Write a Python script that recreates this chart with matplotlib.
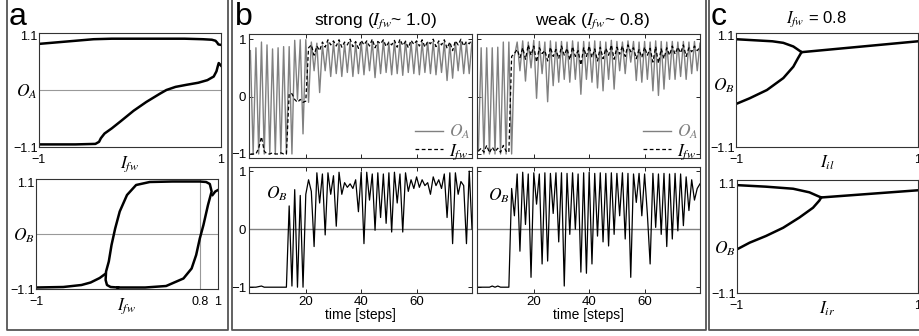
import matplotlib
matplotlib.use('Agg')
import matplotlib.pyplot as plt
import matplotlib.transforms as mtransforms
from matplotlib.lines import Line2D
import numpy as np

plt.rcParams['font.family'] = ['Liberation Sans', 'DejaVu Sans']
plt.rcParams['mathtext.fontset'] = 'stix'

# ---- panel a: bifurcation vs I_fw ----
a_top_up_x = [-1, -0.8, -0.6, -0.4, -0.2, 0, 0.3, 0.6, 0.8, 0.9, 0.94, 0.96, 0.97, 1.0]
a_top_up_y = [0.89, 0.92, 0.95, 0.98, 0.99, 0.99, 0.99, 0.99, 0.98, 0.97, 0.95, 0.91, 0.88, 0.87]
a_top_lo_x = [-1, -0.6, -0.38, -0.34, -0.32, -0.28, -0.2, -0.1, 0.04, 0.18, 0.33, 0.4, 0.5,
              0.62, 0.75, 0.85, 0.92, 0.95, 0.965, 0.975, 1.0]
a_top_lo_y = [-1.05, -1.05, -1.04, -1.0, -0.93, -0.84, -0.74, -0.6, -0.4, -0.23, -0.07, 0.0, 0.06,
              0.1, 0.14, 0.19, 0.26, 0.36, 0.46, 0.52, 0.47]

a_bot_tail_x = [-1, -0.7, -0.5, -0.4, -0.3, -0.24]
a_bot_tail_y = [-1.07, -1.06, -1.02, -0.97, -0.88, -0.8]
a_bot_loop_x = [-0.1, -0.18, -0.22, -0.235, -0.23, -0.2, -0.17, -0.13, -0.08, 0.0, 0.1, 0.25, 0.5,
                0.8, 0.87, 0.91, 0.93, 0.89, 0.84, 0.8, 0.76, 0.71, 0.62, 0.43, 0.2, -0.1]
a_bot_loop_y = [-1.07, -1.06, -1.02, -0.92, -0.75, -0.55, -0.22, 0.11, 0.45, 0.78, 0.98, 1.04, 1.05,
                1.05, 1.04, 1.0, 0.85, 0.58, 0.18, -0.09, -0.42, -0.69, -0.89, -1.04, -1.07, -1.07]
a_bot_hook_x = [0.94, 0.97, 1.0]
a_bot_hook_y = [0.78, 0.85, 0.88]

# ---- panel c: O_B vs I_il / I_ir ----
c_top_up_x = [-1, -0.8, -0.6, -0.48, -0.37, -0.32, -0.28]
c_top_up_y = [0.98, 0.96, 0.94, 0.91, 0.84, 0.78, 0.73]
c_top_lo_x = [-1, -0.85, -0.66, -0.48, -0.37, -0.32, -0.28]
c_top_lo_y = [-0.27, -0.16, 0.0, 0.23, 0.45, 0.61, 0.73]
c_top_r_x = [-0.28, 1.0]
c_top_r_y = [0.73, 0.94]

c_bot_up_x = [-1, -0.68, -0.38, -0.2, -0.11, -0.07]
c_bot_up_y = [1.0, 0.97, 0.93, 0.86, 0.79, 0.76]
c_bot_lo_x = [-1, -0.86, -0.68, -0.49, -0.31, -0.16, -0.09, -0.07]
c_bot_lo_y = [-0.25, -0.12, 0.01, 0.17, 0.37, 0.56, 0.70, 0.76]
c_bot_r_x = [-0.07, 1.0]
c_bot_r_y = [0.76, 0.90]

# ---- panel b: time series ----
steps = np.arange(81)
strong_OA = [0.80, -1.00, 0.85, -1.00, 0.95, -1.00, 0.90, -1.00, 0.83, -1.00,
             0.85, -1.00, 0.87, -1.00, 0.87, -1.00, 0.98, -0.05, 0.99, -0.65,
             0.99, -0.10, 0.95, 0.45, 0.93, 0.07, 0.90, 0.45, 0.95, 0.35,
             0.94, 0.40, 0.95, 0.35, 0.92, 0.42, 0.96, 0.35, 0.93, 0.40,
             0.95, 0.38, 0.94, 0.45, 0.96, 0.33, 0.95, 0.40, 0.97, 0.42,
             0.93, 0.38, 0.96, 0.40, 0.95, 0.37, 0.97, 0.42, 0.94, 0.40,
             0.96, 0.38, 0.95, 0.42, 0.95, 0.40, 0.96, 0.38, 0.93, 0.42,
             0.95, 0.28, 0.92, 0.32, 0.95, 0.45, 0.96, 0.40, 0.93, 0.40,
             0.95]
strong_Ifw = [-1.00, -1.00, -1.00, -0.90, -0.70, -0.95, -1.00, -1.00, -0.98, -1.00,
              -1.00, -0.98, -1.00, -1.00, 0.05, 0.05, -0.05, -0.10, -0.05, -0.10,
              -0.08, 0.85, 0.90, 0.72, 0.88, 0.80, 0.95, 0.86, 0.99, 0.90,
              0.97, 0.88, 0.99, 0.86, 0.95, 0.90, 1.00, 0.87, 0.96, 0.84,
              0.98, 0.90, 0.97, 0.88, 1.00, 0.85, 0.96, 0.92, 0.99, 0.87,
              0.95, 0.90, 0.98, 0.86, 1.00, 0.89, 0.96, 0.85, 0.98, 0.91,
              0.97, 0.88, 0.99, 0.86, 0.96, 0.92, 1.00, 0.87, 0.97, 0.90,
              0.99, 0.84, 0.95, 0.80, 0.97, 0.90, 1.00, 0.88, 0.96, 0.92,
              0.99]
weak_OA = [-0.95, 0.85, -1.00, 0.85, -1.00, 0.85, -1.00, 0.86, -1.00, 0.95,
           -1.00, 0.95, -1.00, 0.70, 0.95, 0.45, 0.97, 0.27, 0.95, 0.50,
           0.98, -0.03, 0.96, 0.40, 0.95, -0.09, 0.97, 0.19, 0.95, 0.25,
           0.96, 0.30, 0.95, 0.25, 0.97, 0.30, 0.95, 0.04, 0.96, 0.30,
           0.95, 0.25, 0.97, 0.15, 0.96, 0.10, 0.95, 0.30, 0.98, 0.13,
           0.96, 0.45, 0.95, 0.40, 0.97, 0.60, 0.96, 0.28, 0.95, 0.25,
           0.96, 0.30, 0.95, 0.10, 0.97, 0.02, 0.96, 0.13, 0.95, 0.30,
           0.96, 0.30, 0.95, 0.35, 0.96, 0.30, 0.95, 0.40, 0.96, 0.45,
           0.93]
weak_Ifw = [-0.95, -0.90, -0.97, -0.85, -0.98, -0.88, -0.96, -0.90, -0.97, -0.85,
            -0.95, -0.97, 0.70, 0.75, 0.82, 0.68, 0.85, 0.65, 0.90, 0.72,
            0.88, 0.60, 0.85, 0.75, 0.80, 0.62, 0.86, 0.70, 0.82, 0.66,
            0.88, 0.72, 0.84, 0.64, 0.87, 0.70, 0.80, 0.55, 0.85, 0.70,
            0.88, 0.68, 0.83, 0.62, 0.86, 0.66, 0.84, 0.72, 0.90, 0.65,
            0.86, 0.74, 0.88, 0.70, 0.90, 0.78, 0.85, 0.66, 0.82, 0.68,
            0.86, 0.72, 0.84, 0.60, 0.87, 0.58, 0.83, 0.66, 0.85, 0.72,
            0.88, 0.74, 0.86, 0.76, 0.90, 0.70, 0.85, 0.78, 0.88, 0.80,
            0.86]
strong_OB = [-1.00, -1.00, -1.00, -0.99, -0.98, -1.00, -1.00, -1.00, -1.00, -1.00,
             -1.00, -1.00, -1.00, -1.00, 0.40, -0.98, 0.68, -1.00, 0.58, -1.00,
             0.60, 0.85, 0.65, -0.30, 0.97, 0.45, 0.95, -0.10, 0.97, 0.60,
             0.92, 0.05, 0.98, 0.60, 0.80, 0.72, 0.78, 0.70, 0.85, 0.30,
             0.98, -0.25, 0.98, 0.50, 0.95, -0.02, 0.97, 0.20, 0.95, 0.10,
             0.97, -0.05, 0.98, 0.45, 0.95, -0.05, 0.97, 0.65, 0.85, 0.70,
             0.90, 0.72, 0.85, 0.75, 0.80, 0.60, 0.90, 0.75, 0.85, 0.70,
             0.95, 0.20, 0.97, -0.25, 0.97, 0.60, 0.82, 0.75, -0.25, 1.00,
             0.00]
weak_OB = [-1.00, -1.00, -1.00, -1.00, -1.00, -0.98, -1.00, -0.98, -1.00, -1.00,
           -1.00, -1.00, 0.70, 0.23, 0.95, -0.38, 0.98, 0.08, 0.95, -0.83,
           0.97, 0.43, 0.95, -0.60, 0.97, -0.55, 0.96, 0.27, 0.97, -0.22,
           0.97, -0.98, 0.96, -0.09, 0.97, 0.00, 0.95, -0.74, 0.97, -0.76,
           0.98, -0.60, 0.96, -0.12, 0.97, -0.22, 0.96, -0.29, 0.97, -0.09,
           0.96, 0.23, 0.97, -0.17, 0.96, -0.83, 0.95, 0.46, 0.96, 0.23,
           0.95, 0.26, -0.60, 0.96, 0.03, 0.95, -0.09, 0.96, -0.30, 0.95,
           -0.17, 0.96, -0.03, 0.95, 0.06, 0.90, 0.32, 0.85, 0.50, 0.70,
           0.78]

W, H = 920, 336
fig = plt.figure(figsize=(W / 100, H / 100), dpi=100)
GRAY = '#808080'
FRAME = '#555555'


def box(l, t, r, b):
    ax = fig.add_axes([l / W, 1 - b / H, (r - l) / W, (b - t) / H])
    for s in ax.spines.values():
        s.set_color('#333333')
        s.set_linewidth(0.8)
    return ax


def fig_line(xs, ys):
    fig.add_artist(Line2D([x / W for x in xs], [1 - y / H for y in ys],
                          transform=fig.transFigure, color=FRAME, lw=1.3))


# panel frames
fig_line([7, 7, 228, 228], [0, 330, 330, 0])
fig_line([232, 232, 706, 706], [0, 330, 330, 0])
fig_line([709, 709, 925], [0, 330, 330])

# ---------- panel a ----------
a1 = box(39, 33, 221, 147)
a1.axhline(0, color='#999999', lw=0.8)
a1.plot(a_top_up_x, a_top_up_y, color='k', lw=1.8)
a1.plot(a_top_lo_x, a_top_lo_y, color='k', lw=1.8)
a1.set_xlim(-1, 1)
a1.set_ylim(-1.1, 1.1)
a1.set_yticks([-1.1, 0, 1.1], ['\u22121.1', '$O_A$', '1.1'])
a1.set_xticks([-1, 0, 1], ['\u22121', '$I_{fw}$', '1'])

a2 = box(36, 179, 218, 289)
a2.axhline(0, color='#999999', lw=0.8)
a2.axvline(0.8, color='#999999', lw=0.8)
a2.plot(a_bot_tail_x, a_bot_tail_y, color='k', lw=1.8)
a2.plot(a_bot_loop_x, a_bot_loop_y, color='k', lw=1.8)
a2.plot(a_bot_hook_x, a_bot_hook_y, color='k', lw=1.8)
a2.set_xlim(-1, 1)
a2.set_ylim(-1.1, 1.1)
a2.set_yticks([-1.1, 0, 1.1], ['\u22121.1', '$O_B$', '1.1'])
a2.set_xticks([-1, 0, 0.8, 1], ['\u22121', '$I_{fw}$', '0.8', '1'])

# ---------- panel c ----------
c1 = box(736, 33, 918, 147)
c1.plot(c_top_up_x, c_top_up_y, color='k', lw=1.8)
c1.plot(c_top_lo_x, c_top_lo_y, color='k', lw=1.8)
c1.plot(c_top_r_x, c_top_r_y, color='k', lw=1.8)
c1.set_xlim(-1, 1)
c1.set_ylim(-1.1, 1.1)
c1.set_yticks([-1.1, 0.12, 1.1], ['\u22121.1', '$O_B$', '1.1'])
c1.set_xticks([-1, 0, 1], ['\u22121', '$I_{il}$', '1'])

c2 = box(737, 180, 918, 293)
c2.plot(c_bot_up_x, c_bot_up_y, color='k', lw=1.8)
c2.plot(c_bot_lo_x, c_bot_lo_y, color='k', lw=1.8)
c2.plot(c_bot_r_x, c_bot_r_y, color='k', lw=1.8)
c2.set_xlim(-1, 1)
c2.set_ylim(-1.1, 1.1)
c2.set_yticks([-1.1, -0.2, 1.1], ['\u22121.1', '$O_B$', '1.1'])
c2.set_xticks([-1, 0, 1], ['\u22121', '$I_{ir}$', '1'])

down = mtransforms.ScaledTranslation(0, -3 / 100, fig.dpi_scale_trans)
for ax in (a1, a2, c1, c2):
    ax.tick_params(length=0, labelsize=9)
    ax.tick_params(axis='x', pad=5)
    ax.tick_params(axis='y', pad=1)
    for lab in ax.get_yticklabels() + ax.get_xticklabels():
        if '$' in lab.get_text():
            lab.set_fontsize(12.5)
    top_lab = ax.get_yticklabels()[-1]
    top_lab.set_transform(top_lab.get_transform() + down)

# ---------- panel b ----------
b_tl = box(249, 34, 472, 158)
b_tr = box(477, 34, 700, 158)
b_bl = box(249, 167, 472, 293)
b_br = box(477, 167, 700, 293)

for ax, oa, ifw in ((b_tl, strong_OA, strong_Ifw), (b_tr, weak_OA, weak_Ifw)):
    l1, = ax.plot(steps, oa, color=GRAY, lw=1.0)
    l2, = ax.plot(steps, ifw, color='k', lw=0.9, ls=(0, (3, 2)))
    ax.set_ylim(-1.07, 1.09)
    leg = ax.legend([l1, l2], ['$O_A$', '$I_{fw}$'], loc='lower right', frameon=False,
                    fontsize=12.5, handlelength=1.6, handletextpad=0.4,
                    labelspacing=0.05, borderaxespad=0.0, borderpad=0.0,
                    bbox_to_anchor=(0.995, -0.03))
    leg.get_texts()[0].set_color(GRAY)

for ax, ob, xo, yo in ((b_bl, strong_OB, 5.5, 0.6), (b_br, weak_OB, 3.5, 0.57)):
    ax.axhline(0, color=GRAY, lw=1.0)
    ax.plot(steps, ob, color='k', lw=0.9)
    ax.set_ylim(-1.1, 1.07)
    ax.text(xo, yo, '$O_B$', fontsize=12.5, va='center', ha='left')
    ax.set_xlabel('time [steps]', fontsize=10, labelpad=0)

for ax in (b_tl, b_tr, b_bl, b_br):
    ax.set_xlim(-0.5, 80)
    ax.set_xticks([20, 40, 60])
    ax.set_yticks([-1, 0, 1], ['\u22121', '0', '1'])
    ax.tick_params(direction='in', length=3, width=0.6, top=True, right=True,
                   labelsize=9.5, pad=2)
for ax in (b_tl, b_tr):
    ax.tick_params(labelbottom=False)
for ax in (b_tr, b_br):
    ax.tick_params(labelleft=False)

# titles
fig.text(375 / W, 1 - 25 / H, 'strong ($I_{fw}$~ 1.0)', ha='center', va='baseline', fontsize=12.5)
fig.text(593 / W, 1 - 25 / H, 'weak ($I_{fw}$~ 0.8)', ha='center', va='baseline', fontsize=12.5)
fig.text(816 / W, 1 - 23 / H, '$I_{fw}$ = 0.8', ha='center', va='baseline', fontsize=12)

# panel letters
for x, s in ((9, 'a'), (235, 'b'), (711, 'c')):
    fig.text(x / W, 1 - 25 / H, s, ha='left', va='baseline', fontsize=23)

fig.savefig('out.png', dpi=100)
